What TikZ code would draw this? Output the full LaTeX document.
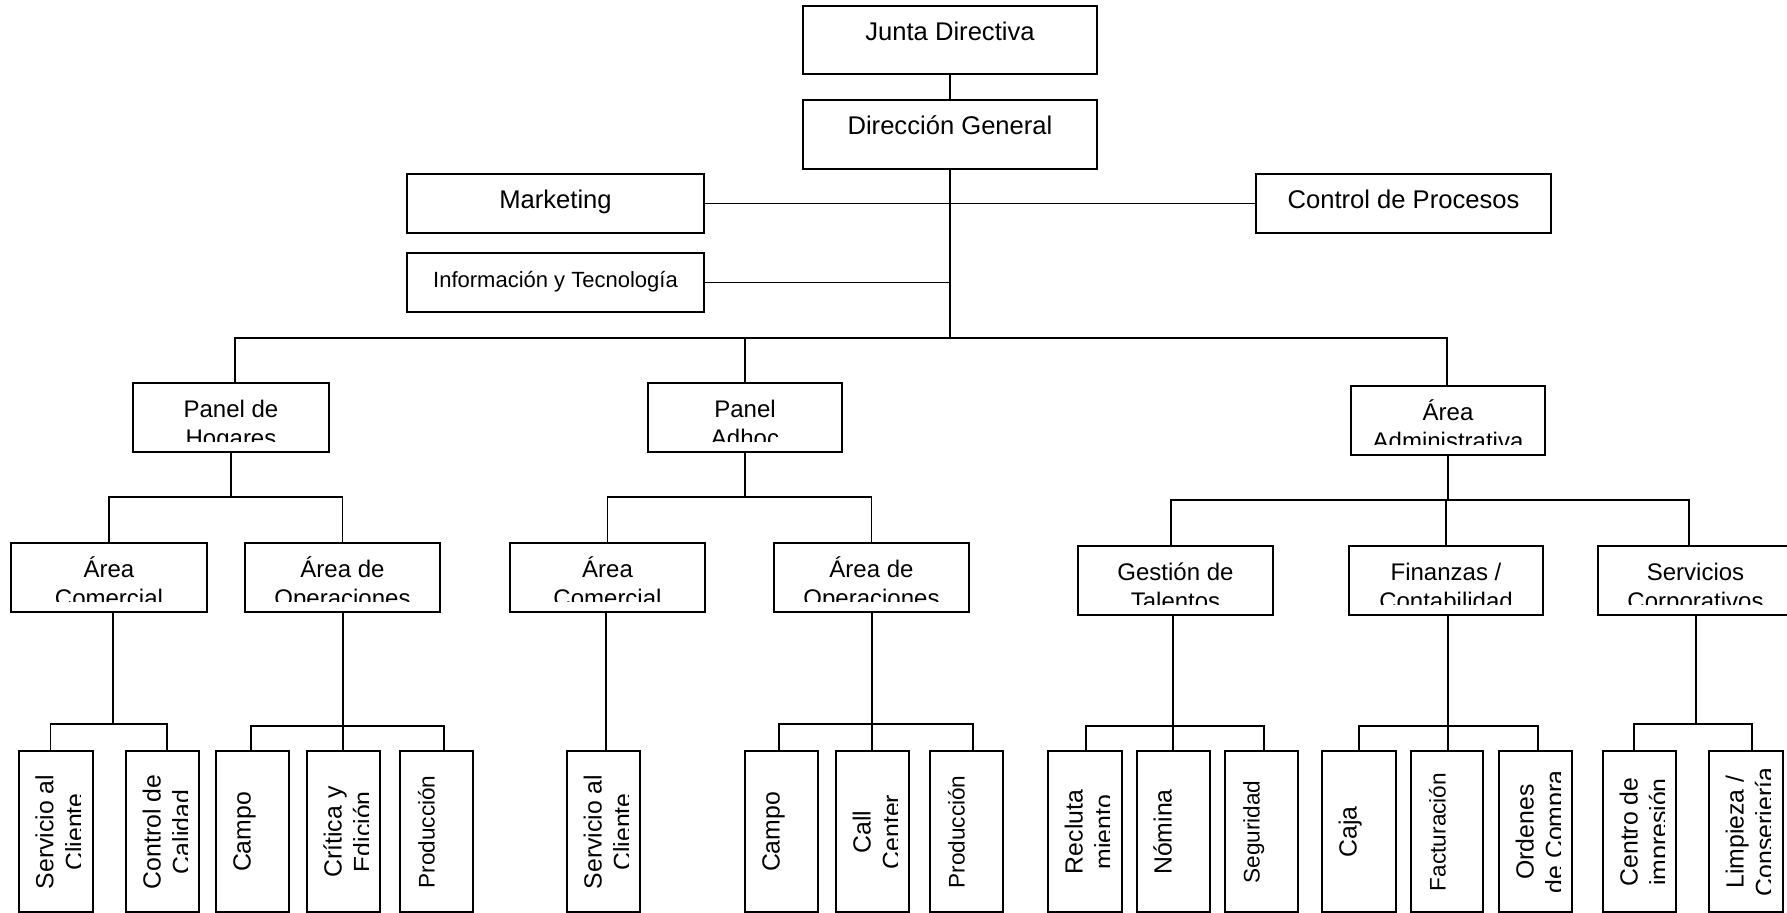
\documentclass[tikz,border=0pt]{standalone}
\usepackage{fontspec}
\setmainfont{Liberation Sans}
\tikzset{
  boxs/.style={draw, line width=0.9pt, rectangle, inner sep=0pt, outer sep=0pt, fill=white},
  txt/.style={anchor=base, inner sep=0pt, outer sep=0pt},
  ftop/.style={font=\fontsize{12.8}{14.75}\selectfont},
  fmid/.style={font=\fontsize{12}{14.75}\selectfont},
  fvert/.style={font=\fontsize{12.4}{14.75}\selectfont},
  fsmall/.style={font=\fontsize{11.3}{14.75}\selectfont},
  finfo/.style={font=\fontsize{11}{13}\selectfont},
  conn/.style={line width=0.75pt}
}
% horizontal box: name, x1, y1, x2, y2, font style, text
\newcommand\OrgH[7]{%
  \node[boxs, minimum width={(#4-#2)*0.5pt}, minimum height={(#5-#3)*0.5pt}] (#1) at ({(#2+#4)/2},{(#3+#5)/2}) {};
  \begin{scope}
    \clip (#2,#3) rectangle (#4,#5-10.5);
    \node[txt,#6] (#1t) at ({(#2+#4)/2},#3+34.5) {\begin{tabular}[t]{@{}c@{}}#7\end{tabular}};
  \end{scope}}
% vertical box: name, x1, x2, font style, text
\newcommand\OrgV[5]{%
  \node[boxs, minimum width={(#3-#2)*0.5pt}, minimum height={(912-751)*0.5pt}] (#1) at ({(#2+#3)/2},831.5) {};
  \begin{scope}
    \clip (#2,751) rectangle (#2+61,912);
    \node[txt,#4,rotate=90] (#1t) at (#2+34.5,832) {\begin{tabular}[t]{@{}c@{}}#5\end{tabular}};
  \end{scope}}
\begin{document}
\begin{tikzpicture}[x=0.5pt,y=-0.5pt]
\clip (0,0) rectangle (1787,913);
\fill[white] (0,0) rectangle (1787,913);

% top level
\OrgH{jd}{803}{6}{1097}{74}{ftop}{Junta Directiva}
\OrgH{dg}{803}{100}{1097}{169}{ftop}{Dirección General}
\OrgH{mk}{407}{174}{704}{233}{ftop}{Marketing}
\OrgH{cp}{1256}{174}{1551}{233}{ftop}{Control de Procesos}
\OrgH{it}{407}{253}{704}{312}{finfo}{Información y Tecnología}

% level 2
\OrgH{ph}{133}{383}{329}{452}{fmid}{Panel de\\Hogares}
\OrgH{pa}{648}{383}{842}{452}{fmid}{Panel\\Adhoc}
\OrgH{aa}{1351}{386}{1545}{455}{fmid}{Área\\Administrativa}

% level 3
\OrgH{phc}{11}{543}{207}{612}{fmid}{Área\\Comercial}
\OrgH{pho}{245}{543}{440}{612}{fmid}{Área de\\Operaciones}
\OrgH{pac}{510}{543}{705}{612}{fmid}{Área\\Comercial}
\OrgH{pao}{774}{543}{969}{612}{fmid}{Área de\\Operaciones}
\OrgH{gt}{1078}{546}{1273}{615}{fmid}{Gestión de\\Talentos}
\OrgH{fc}{1349}{546}{1543}{615}{fmid}{Finanzas /\\Contabilidad}
\OrgH{sc}{1598}{546}{1793}{615}{fmid}{Servicios\\Corporativos}

% level 4
\OrgV{scla}{19}{93}{fvert}{Servicio al\\Cliente}
\OrgV{cdc}{126}{199}{fvert}{Control de\\Calidad}
\OrgV{cama}{216}{289}{fvert}{Campo}
\OrgV{cye}{307}{380}{fvert}{Crítica y\\Edición}
\OrgV{proa}{400}{473}{fsmall}{Producción}
\OrgV{sclb}{567}{640}{fvert}{Servicio al\\Cliente}
\OrgV{camb}{745}{818}{fvert}{Campo}
\OrgV{cc}{836}{909}{fvert}{Call\\Center}
\OrgV{prob}{930}{1003}{fsmall}{Producción}
\OrgV{rec}{1048}{1122}{fvert}{Recluta\\miento}
\OrgV{nom}{1137}{1210}{fvert}{Nómina}
\OrgV{seg}{1225}{1298}{fsmall}{Seguridad}
\OrgV{caja}{1322}{1396}{fvert}{Caja}
\OrgV{fac}{1411}{1483}{fsmall}{Facturación}
\OrgV{odc}{1499}{1572}{fvert}{Ordenes\\de Compra}
\OrgV{cdi}{1603}{1676}{fvert}{Centro de\\impresión}
\OrgV{lc}{1709}{1783}{fvert}{Limpieza /\\Conserjería}

% junction coordinates
\coordinate (t0) at (950,338);
\coordinate (bL) at (235,338);
\coordinate (bR) at (1447,338);
\coordinate (ja) at (231,497);
\coordinate (jb) at (745,497);
\coordinate (jc) at (1448,500);
\coordinate (jcL) at (1171,500);
\coordinate (jcR) at (1689,500);
\coordinate (k1) at (113,724);  \coordinate (k1a) at (50.5,724); \coordinate (k1b) at (167,724);
\coordinate (k2) at (343,726);  \coordinate (k2a) at (251,726);  \coordinate (k2b) at (444,726);
\coordinate (k3) at (606,700);
\coordinate (k4) at (872,724);  \coordinate (k4a) at (779,724);  \coordinate (k4b) at (973,724);
\coordinate (k5) at (1173,726); \coordinate (k5a) at (1086,726); \coordinate (k5b) at (1264,726);
\coordinate (k6) at (1448,726); \coordinate (k6a) at (1359,726); \coordinate (k6b) at (1538,726);
\coordinate (k7) at (1696,724); \coordinate (k7a) at (1634,724); \coordinate (k7b) at (1752,724);

% connectors, top
\draw[conn] (jd.south) -- (dg.north);
\draw[conn] (dg.south) -- (t0);
\draw[conn] (mk.east) -- (cp.west);
\draw[conn] (it.east) -- (it.east -| t0);
\draw[conn] (bL |- ph.north) -- (bL) -- (bR) -- (bR |- aa.north);
\draw[conn] (pa.north) -- (pa.north |- t0);

% level 2 -> 3
\draw[conn] (ph.south) -- (ja);
\draw[conn] (phc.north) |- (ja) -| (pho.north);
\draw[conn] (pa.south) -- (jb);
\draw[conn] (pac.north) |- (jb) -| (pao.north);
\draw[conn] (aa.south) -- (jc);
\draw[conn] (jcL |- gt.north) -- (jcL) -- (jcR) -- (jcR |- sc.north);
\draw[conn] (fc.north) -- (fc.north |- jc);

% level 3 -> 4
\draw[conn] (k1 |- phc.south) -- (k1);
\draw[conn] (k1a |- scla.north) -- (k1a) -- (k1b) -- (k1b |- cdc.north);
\draw[conn] (k2 |- pho.south) -- (k2 |- cye.north);
\draw[conn] (k2a |- cama.north) -- (k2a) -- (k2b) -- (k2b |- proa.north);
\draw[conn] (k3 |- pac.south) -- (k3 |- sclb.north);
\draw[conn] (k4 |- pao.south) -- (k4 |- cc.north);
\draw[conn] (k4a |- camb.north) -- (k4a) -- (k4b) -- (k4b |- prob.north);
\draw[conn] (k5 |- gt.south) -- (k5 |- nom.north);
\draw[conn] (k5a |- rec.north) -- (k5a) -- (k5b) -- (k5b |- seg.north);
\draw[conn] (k6 |- fc.south) -- (k6 |- fac.north);
\draw[conn] (k6a |- caja.north) -- (k6a) -- (k6b) -- (k6b |- odc.north);
\draw[conn] (k7 |- sc.south) -- (k7);
\draw[conn] (k7a |- cdi.north) -- (k7a) -- (k7b) -- (k7b |- lc.north);
\end{tikzpicture}
\end{document}
